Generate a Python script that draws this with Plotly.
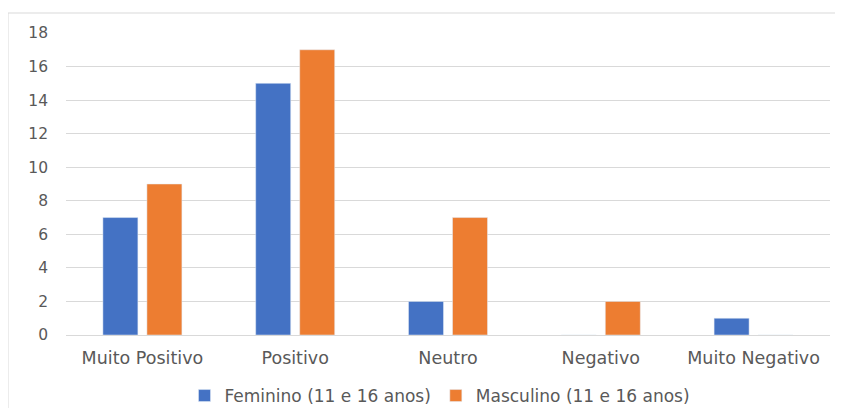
import plotly.graph_objects as go

categories = ["Muito Positivo", "Positivo", "Neutro", "Negativo", "Muito Negativo"]
feminino = [7, 15, 2, 0, 1]
masculino = [9, 17, 7, 2, 0]
series_names = ["Feminino (11 e 16 anos)", "Masculino (11 e 16 anos)"]
y_ticks = [0, 2, 4, 6, 8, 10, 12, 14, 16, 18]

# page body has an 8px margin; figure coordinates = screenshot - 8
W, H = 827, 400
L, R, T, B = 58, 5, 25, 73
pw, ph = W - L - R, H - T - B

def px_x(x):
    return (x - L) / pw

def px_y(y):
    return (H - B - y) / ph

FONT = "DejaVu Sans, Liberation Sans, Arial, sans-serif"
GRAY = "#595959"

fig = go.Figure()
fig.add_trace(go.Bar(x=categories, y=feminino, name=series_names[0], marker_color="#4472C4"))
fig.add_trace(go.Bar(x=categories, y=masculino, name=series_names[1], marker_color="#ED7D31"))

fig.update_layout(
    width=W, height=H,
    margin=dict(l=L, r=R, t=T, b=B, autoexpand=False),
    paper_bgcolor="white", plot_bgcolor="white",
    barmode="group", bargap=0.424, bargroupgap=0.205,
    font=dict(family=FONT, size=15, color=GRAY),
    xaxis=dict(showgrid=False, showline=True, linecolor="#D9D9D9", linewidth=1,
               ticks="", ticklabelstandoff=7,
               tickfont=dict(family=FONT, size=17.5, color=GRAY)),
    yaxis=dict(range=[0, 18], tickvals=y_ticks, showgrid=True, gridcolor="#D9D9D9",
               gridwidth=1, zeroline=False, showline=False, ticks="",
               ticklabelstandoff=17,
               tickfont=dict(family=FONT, size=15.5, color=GRAY)),
    legend=dict(orientation="h", x=px_x(432), xanchor="center", y=px_y(388), yanchor="middle",
                font=dict(family=FONT, size=17, color=GRAY), itemwidth=30,
                traceorder="normal", bgcolor="rgba(0,0,0,0)"),
    showlegend=True,
    shapes=[
        dict(type="line", xref="paper", yref="paper",
             x0=px_x(0), x1=px_x(W), y0=px_y(5), y1=px_y(5),
             line=dict(color="#D9D9D9", width=1)),
        dict(type="line", xref="paper", yref="paper",
             x0=px_x(0), x1=px_x(0), y0=px_y(5), y1=px_y(H),
             line=dict(color="#D9D9D9", width=1)),
    ],
)

fig.write_html("out.html")
